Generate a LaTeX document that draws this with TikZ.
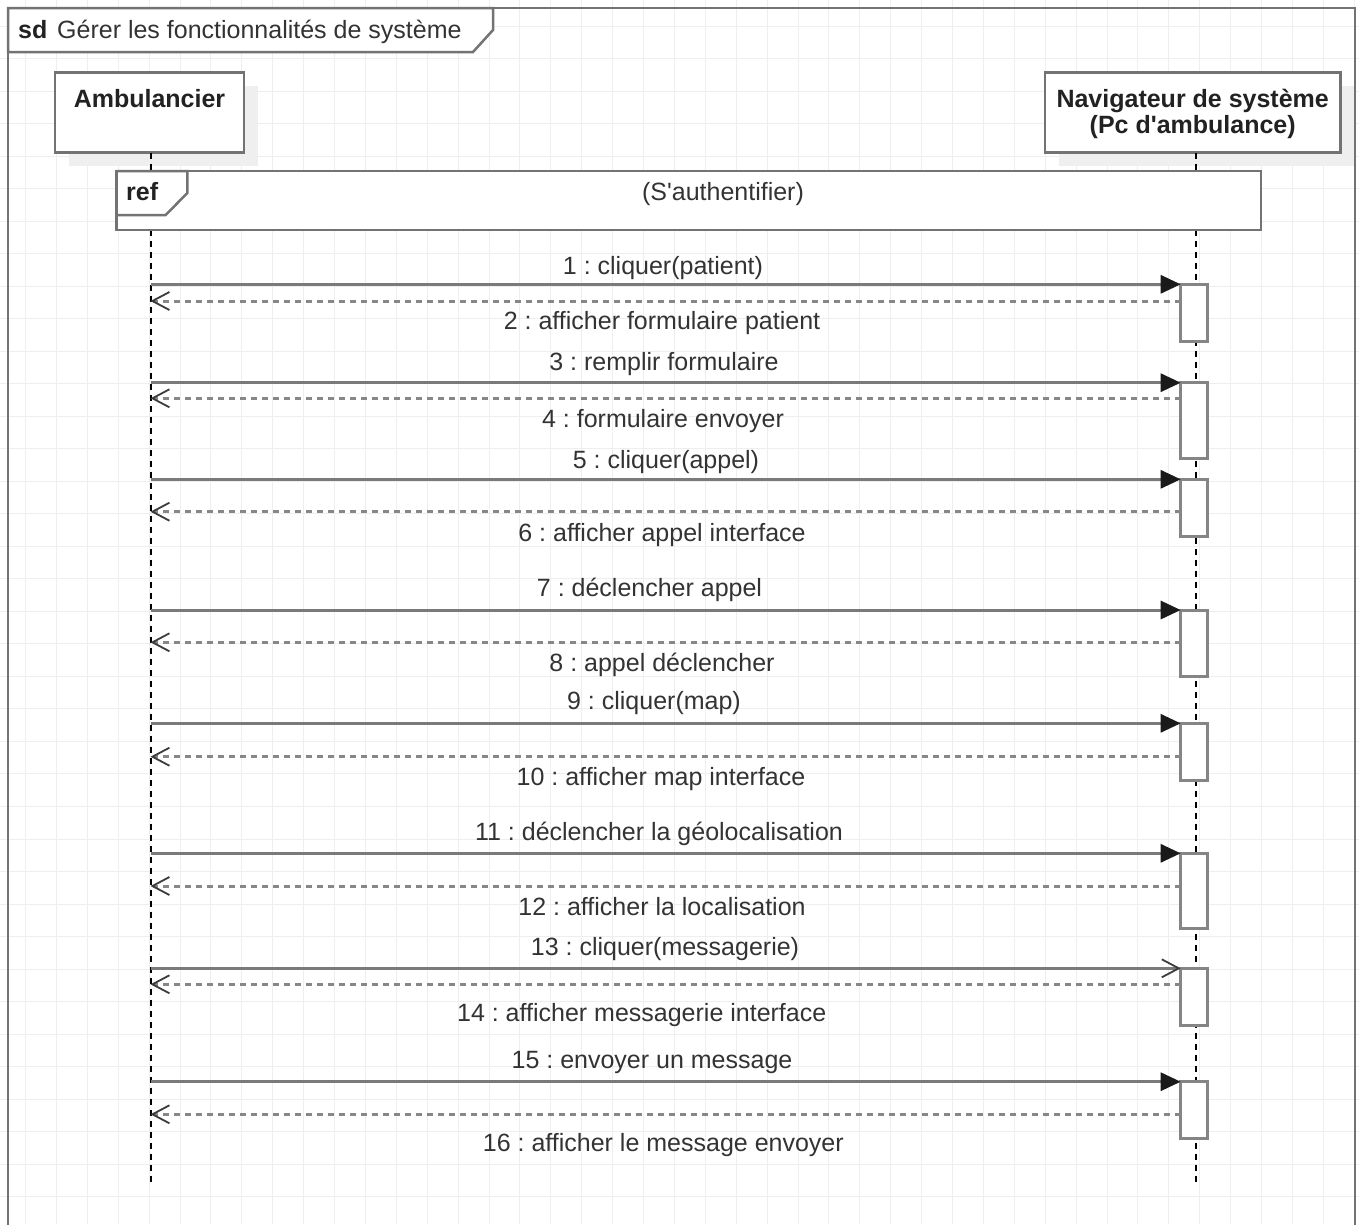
\documentclass[tikz,border=0pt]{standalone}
\usepackage{fontspec}
\setmainfont{Liberation Sans}
\usetikzlibrary{arrows.meta}
\frenchspacing

\definecolor{gridc}{HTML}{EEEEEE}
\definecolor{framec}{HTML}{737373}
\definecolor{msgc}{HTML}{7A7A7A}
\definecolor{actc}{HTML}{858585}
\definecolor{txtc}{HTML}{333333}
\definecolor{namec}{HTML}{222222}
\definecolor{shadowc}{HTML}{EFEFEF}
\definecolor{tipc}{HTML}{1A1A1A}

\begin{document}
\begin{tikzpicture}[x=1pt,y=-1pt,
  lbl/.style={font=\fontsize{25}{26}\selectfont, text=txtc, inner sep=0pt, anchor=base},
  namelbl/.style={lbl, font=\fontsize{25}{26}\selectfont\bfseries, text=namec},
  headbox/.style={draw=framec, line width=2.5pt, fill=white, inner sep=0pt, outer sep=0pt},
  framebox/.style={draw=framec, line width=2.5pt, fill=white},
  lifeline/.style={draw=black, line width=2pt, dash pattern=on 6pt off 5pt},
  actbox/.style={draw=actc, line width=3pt, fill=white, minimum width=26.6pt,
    inner sep=0pt, outer sep=0pt},
  call/.style={draw=msgc, line width=3pt,
    -{Triangle[length=20pt,width=18pt,color=tipc]}},
  callopen/.style={draw=msgc, line width=3pt,
    -{Straight Barb[length=17pt,width=18pt,line width=1.8pt,color=tipc!85]}},
  reply/.style={draw=msgc!90, line width=3pt, dash pattern=on 6pt off 5pt,
    -{Straight Barb[length=17pt,width=18pt,line width=1.8pt,color=tipc!85]}},
]
\useasboundingbox (0,0) rectangle (1359,1224);
\clip (0,0) rectangle (1359,1224);
\fill[white] (0,0) rectangle (1359,1224);

% background grid
\foreach \i in {-1,...,44}
  \draw[gridc, line width=1pt] ({25.5+30.9*\i},0) -- ++(0,1224);
\foreach \j in {-1,...,38}
  \draw[gridc, line width=1pt] (0,{26+32.52*\j}) -- ++(1359,0);

% sequence diagram frame
\draw[framec, line width=2.5pt] (8,1240) -- (8,8) -- (1355,8) -- (1355,1240);
\draw[framebox] (8,8) -- (493,8) -- (493,30) -- (473,52) -- (8,52) -- cycle;
\node[namelbl, anchor=base west] (sd) at (18,38.3) {sd};
\node[lbl, anchor=base west] (title) at (57,38.3) {Gérer les fonctionnalités de système};

% lifeline heads with drop shadows
\fill[shadowc] (69,86) rectangle (258,166);
\fill[shadowc] (1059,86) rectangle (1354,166);
\node[headbox, minimum width=189pt, minimum height=80pt] (amb) at (149.5,112.7) {};
\node[headbox, minimum width=295.7pt, minimum height=80pt] (nav) at (1192.85,112.7) {};
\node[namelbl] (ambname) at (149.5,107) {Ambulancier};
\node[namelbl] (navname1) at (1192.7,107) {Navigateur de système};
\node[namelbl] (navname2) at (1192.7,133) {(Pc d\textquotesingle ambulance)};

% lifelines
\coordinate (ambend) at (150.5,1183);
\coordinate (navend) at (1195.5,1183);
\draw[lifeline] (ambend |- amb.south) -- (ambend);
\draw[lifeline] (navend |- nav.south) -- (navend);

% interaction use: S'authentifier
\node[framebox, inner sep=0pt, outer sep=0pt, minimum width=1144.3pt, minimum height=59pt]
  (ref) at (688.85,200.5) {};
\draw[framec, line width=2.5pt] (ref.north west) -- ++(70.6,0) -- ++(0,22)
  -- ++(-21.6,22) -- ++(-49,0);
\node[namelbl, anchor=base west] (reftag) at (126,200) {ref};
\node[lbl] (refname) at (723,200) {(S\textquotesingle authentifier)};

% activations, calls and replies
\foreach \k/\t/\b/\r/\kind in {
    1/284.3/341/301/call,
    2/382.7/458/398.3/call,
    3/479.3/536/511.7/call,
    4/610/676/642.3/call,
    5/723.3/780.7/756.7/call,
    6/853.3/928.3/886/call,
    7/968.3/1025.7/984.3/callopen,
    8/1081.7/1138.3/1114.3/call} {
  \coordinate (snd\k) at (150.5,\t);
  \coordinate (rcv\k) at (150.5,\r);
  \node[actbox, minimum height={\b-\t}] (act\k) at (1194,{(\t+\b)/2}) {};
  \draw[\kind] (snd\k) -- (act\k.north west);
  \draw[reply] (act\k.west |- rcv\k) -- (rcv\k);
}

% message labels
\node[lbl] (m1)  at (663,274.5)  {1 : cliquer(patient)};
\node[lbl] (m2)  at (662,329)    {2 : afficher formulaire patient};
\node[lbl] (m3)  at (664,370)    {3 : remplir formulaire};
\node[lbl] (m4)  at (663,427.7)  {4 : formulaire envoyer};
\node[lbl] (m5)  at (666,468.7)  {5 : cliquer(appel)};
\node[lbl] (m6)  at (662,541.7)  {6 : afficher appel interface};
\node[lbl] (m7)  at (649.5,596.7) {7 : déclencher appel};
\node[lbl] (m8)  at (662,671.7)  {8 : appel déclencher};
\node[lbl] (m9)  at (654,709.7)  {9 : cliquer(map)};
\node[lbl] (m10) at (661,785.7)  {10 : afficher map interface};
\node[lbl] (m11) at (659,840.7)  {11 : déclencher la géolocalisation};
\node[lbl] (m12) at (662,915.7)  {12 : afficher la localisation};
\node[lbl] (m13) at (665,955.7)  {13 : cliquer(messagerie)};
\node[lbl] (m14) at (641.7,1021.7) {14 : afficher messagerie interface};
\node[lbl] (m15) at (652,1068.5) {15 : envoyer un message};
\node[lbl] (m16) at (663.3,1151.7) {16 : afficher le message envoyer};
\end{tikzpicture}
\end{document}
